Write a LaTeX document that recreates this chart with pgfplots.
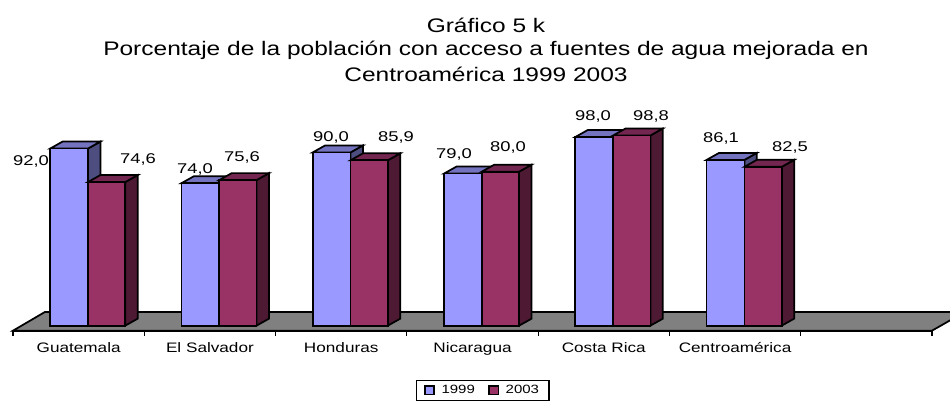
\documentclass[border=0pt]{standalone}
\usepackage{fontspec}
\usepackage{pgfplots}
\pgfplotsset{compat=1.18}
\setmainfont{Liberation Sans}
\newfontfamily\ticksfont[FakeStretch=1.25]{Liberation Sans}
\newfontfamily\numfont[FakeStretch=1.3]{Liberation Sans}
\newfontfamily\titlefont[FakeStretch=1.25]{Liberation Sans}

\definecolor{blueF}{HTML}{9999FF}
\definecolor{blueT}{HTML}{7373BF}
\definecolor{blueS}{HTML}{4D4D80}
\definecolor{redF}{HTML}{993366}
\definecolor{redT}{HTML}{732650}
\definecolor{redS}{HTML}{4D1933}

% one 3D bar: left x, right x, value, colours of front, top, side
\newcommand{\threedbar}[6]{%
  \pgfmathsetmacro\xb{#2+0.095}%
  \pgfmathsetmacro\xl{#1+0.095}%
  \pgfmathsetmacro\yb{#3+3.64}%
  \addplot[forget plot,draw=black,line width=1.3pt,fill=#6] coordinates {(#2,0) (#2,#3) (\xb,\yb) (\xb,3.64)} --cycle;
  \addplot[forget plot,draw=black,line width=1.3pt,fill=#5] coordinates {(#1,#3) (\xl,\yb) (\xb,\yb) (#2,#3)} --cycle;
  \addplot[forget plot,draw=black,line width=1.3pt,fill=#4] coordinates {(#1,0) (#1,#3) (#2,#3) (#2,0)} --cycle;
}

\begin{document}
\begin{tikzpicture}
\useasboundingbox (0pt,0pt) rectangle (712.5pt,-301.5pt);
\begin{axis}[
  at={(9.75pt,-248pt)}, anchor=south west,
  scale only axis,
  width=689.25pt, height=150pt,
  xmin=0, xmax=7,
  ymin=-2.6, ymax=101.3,
  clip=false,
  axis x line=bottom, axis y line=none,
  axis line style={-,line width=1.3pt},
  xtick={0.5,1.5,2.5,3.5,4.5,5.5},
  xticklabels={Guatemala,El Salvador,Honduras,Nicaragua,Costa Rica,Centroamérica},
  minor xtick={0,1,2,3,4,5,6,7},
  major tick length=0pt,
  minor tick length=4pt,
  every minor tick/.style={black,line width=0.9pt},
  tick align=outside,
  x tick label style={font=\fontsize{10.3}{11}\ticksfont, yshift=-5pt, text height=8pt, text depth=2pt},
  legend cell align=left,
  legend style={at={(axis cs:3.07,-28.2)}, anchor=north west, draw=black, line width=1pt,
    font=\fontsize{9}{9.5}\ticksfont, legend columns=2, inner xsep=5.5pt, inner ysep=1.5pt,
    /tikz/every odd column/.append style={column sep=3pt},
    /tikz/every even column/.append style={column sep=8pt}},
]
% floor
\addplot[forget plot,draw=black,line width=1.3pt,fill=gray] coordinates {(0,-2.6) (0.243,7.1) (7.25,7.1) (7,-2.6)} --cycle;

\threedbar{0.283}{0.571}{92.0}{blueF}{blueT}{blueS}
\threedbar{0.571}{0.855}{74.6}{redF}{redT}{redS}
\threedbar{1.283}{1.571}{74.0}{blueF}{blueT}{blueS}
\threedbar{1.571}{1.855}{75.6}{redF}{redT}{redS}
\threedbar{2.283}{2.571}{90.0}{blueF}{blueT}{blueS}
\threedbar{2.571}{2.855}{85.9}{redF}{redT}{redS}
\threedbar{3.283}{3.571}{79.0}{blueF}{blueT}{blueS}
\threedbar{3.571}{3.855}{80.0}{redF}{redT}{redS}
\threedbar{4.283}{4.571}{98.0}{blueF}{blueT}{blueS}
\threedbar{4.571}{4.855}{98.8}{redF}{redT}{redS}
\threedbar{5.283}{5.571}{86.1}{blueF}{blueT}{blueS}
\threedbar{5.571}{5.855}{82.5}{redF}{redT}{redS}

\addlegendimage{legend image code/.code={\draw[draw=black,line width=1.1pt,fill=blueF] (0pt,-3pt) rectangle (7pt,3.5pt);}}
\addlegendentry{1999}
\addlegendimage{legend image code/.code={\draw[draw=black,line width=1.1pt,fill=redF] (0pt,-3pt) rectangle (7pt,3.5pt);}}
\addlegendentry{2003}
\end{axis}

\begin{scope}[x=0.75pt,y=-0.75pt,every node/.style={inner sep=0pt,anchor=center}]
\begin{scope}[every node/.append style={font=\fontsize{10.6}{12}\numfont}]
\node at (31,161) {92,0};
\node at (138,159) {74,6};
\node at (195,169) {74,0};
\node at (242,157) {75,6};
\node at (331,137) {90,0};
\node at (396,137) {85,9};
\node at (454,154) {79,0};
\node at (508,147) {80,0};
\node at (593,116) {98,0};
\node at (651,116) {98,8};
\node at (721,138) {86,1};
\node at (790,147) {82,5};
\end{scope}
\begin{scope}[every node/.append style={font=\fontsize{14.7}{16}\titlefont}]
\node at (486,25) {Gráfico 5 k};
\node at (486,50) {Porcentaje de la población con acceso a fuentes de agua mejorada en};
\node at (486,74) {Centroamérica 1999 2003};
\end{scope}
\end{scope}
\end{tikzpicture}
\end{document}
